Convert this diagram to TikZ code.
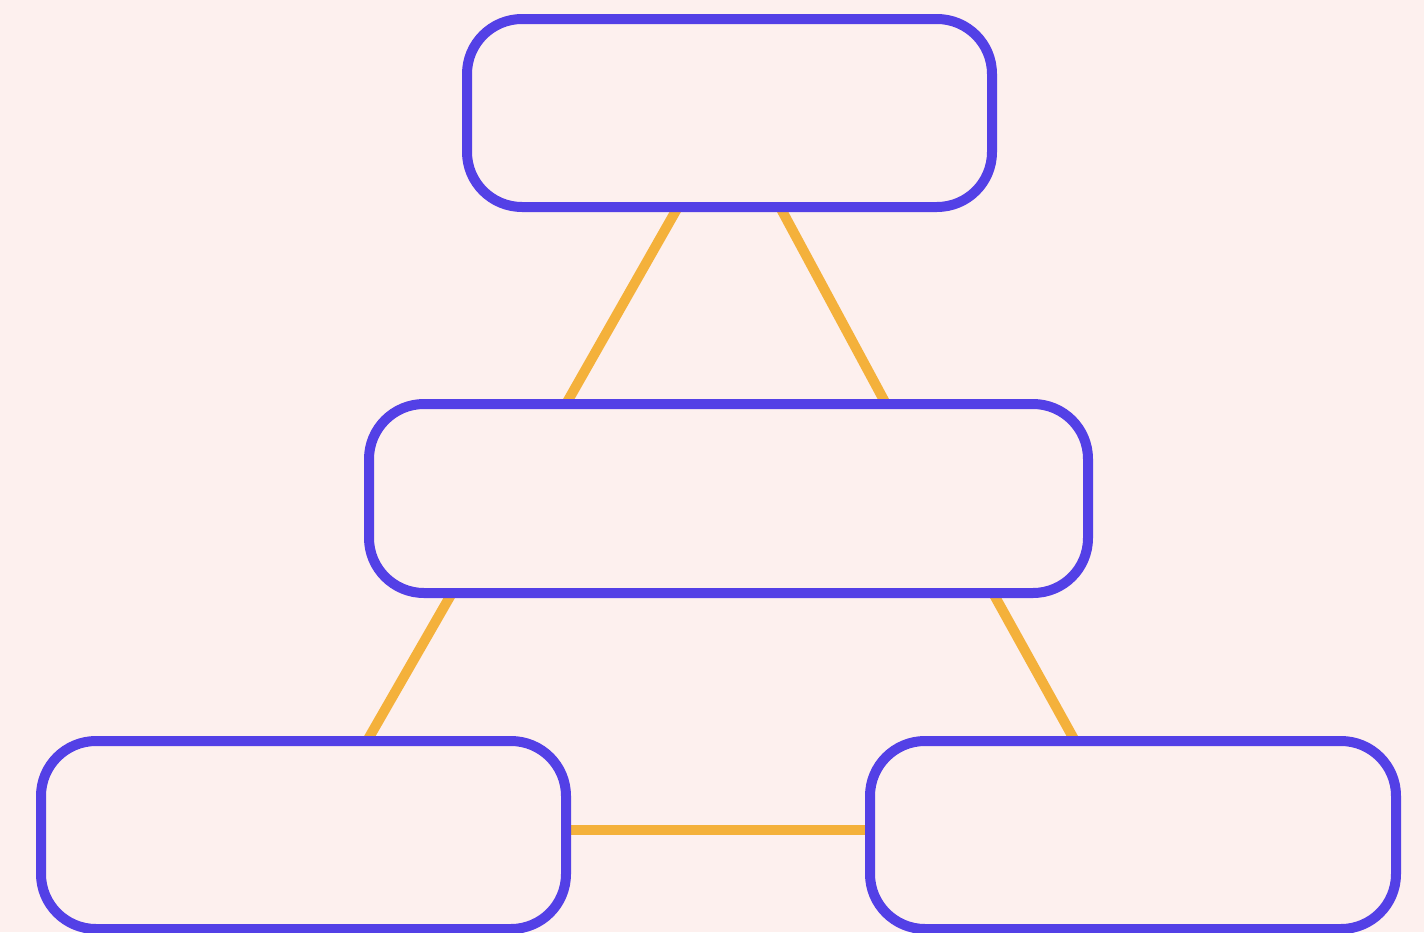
\documentclass[tikz,border=0pt]{standalone}
\usetikzlibrary{calc}
\definecolor{bgc}{HTML}{FDF0EE}
\definecolor{boxc}{HTML}{5340E6}
\definecolor{linkc}{HTML}{F4B13B}
\pgfdeclarelayer{bg}
\pgfdeclarelayer{links}
\pgfsetlayers{bg,links,main}
\begin{document}
\begin{tikzpicture}[x=1pt,y=-1pt,
  box/.style={draw=boxc, line width=10pt, fill=bgc, rectangle, rounded corners=55pt, inner sep=0pt, outer sep=0pt},
  link/.style={draw=linkc, line width=10pt}]
\begin{pgfonlayer}{bg}
\fill[bgc] (0,0) rectangle (1424,932);
\end{pgfonlayer}
\useasboundingbox (0,0) rectangle (1424,932);
\node[box, minimum width=525pt, minimum height=188pt] (top) at (729.5,113) {};
\node[box, minimum width=719pt, minimum height=189pt] (mid) at (728.5,498.5) {};
\node[box, minimum width=525pt, minimum height=188pt] (bl) at (303.5,835) {};
\node[box, minimum width=526pt, minimum height=188pt] (br) at (1133,835) {};
\begin{pgfonlayer}{links}
\draw[link] ([xshift=-51.5pt]top.south) -- ([xshift=-162.5pt]mid.north);
\draw[link] ([xshift=50.5pt]top.south) -- ([xshift=157.5pt]mid.north);
\draw[link] ([xshift=-276.5pt]mid.south) -- ([xshift=63.5pt]bl.north);
\draw[link] ([xshift=264.5pt]mid.south) -- ([xshift=-58pt]br.north);
\draw[link] ([yshift=5pt]bl.east) -- ([yshift=5pt]br.west);
\end{pgfonlayer}
\end{tikzpicture}
\end{document}
